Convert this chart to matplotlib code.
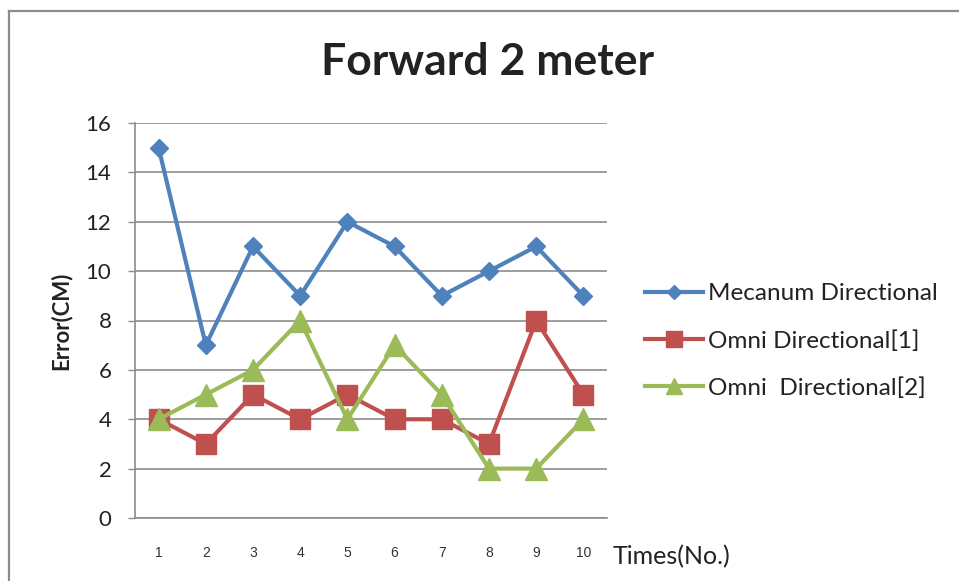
import matplotlib
matplotlib.use("Agg")
import matplotlib.pyplot as plt
from matplotlib.lines import Line2D

# Data
trials = [1, 2, 3, 4, 5, 6, 7, 8, 9, 10]
tick_labels = ["1", "2", "3", "4", "5", "6", "7", "8", "9", "10"]
mecanum = [15, 7, 11, 9, 12, 11, 9, 10, 11, 9]
omni_1 = [4, 3, 5, 4, 5, 4, 4, 3, 8, 5]
omni_2 = [4, 5, 6, 8, 4, 7, 5, 2, 2, 4]
series_names = ["Mecanum Directional", "Omni Directional[1]", "Omni  Directional[2]"]
y_ticks = [0, 2, 4, 6, 8, 10, 12, 14, 16]

BLUE = "#4F81BD"
RED = "#C0504D"
GREEN = "#9BBB59"
GRID = "#8c8c8c"
TEXT = "#222222"

W, H = 959, 581
fig = plt.figure(figsize=(W / 100, H / 100), dpi=100)
fig.patch.set_facecolor("white")

# Chart frame: left and top edges
fx, fy = 9 / W, 1 - 11 / H
fig.add_artist(Line2D([fx, fx], [0, fy], transform=fig.transFigure, color=GRID, lw=1.6))
fig.add_artist(Line2D([fx, 1], [fy, fy], transform=fig.transFigure, color=GRID, lw=1.6))

ax = fig.add_axes([135 / W, 1 - 518 / H, (607 - 135) / W, (518 - 123) / H])
ax.set_facecolor("none")

ax.plot(trials, mecanum, color=BLUE, lw=3.0, marker="D", ms=9, mec=BLUE, mfc=BLUE,
        label=series_names[0], zorder=3)
ax.plot(trials, omni_1, color=RED, lw=3.0, marker="s", ms=15, mec=RED, mfc=RED,
        label=series_names[1], zorder=3)
ax.plot(trials, omni_2, color=GREEN, lw=3.0, marker="^", ms=16, mec=GREEN, mfc=GREEN,
        label=series_names[2], zorder=4)

ax.set_xlim(0.5, 10.5)
ax.set_ylim(0, 16)
ax.set_yticks(y_ticks)
ax.set_yticklabels([str(v) for v in y_ticks], fontsize=16, family="Lato", color=TEXT)
ax.set_xticks(trials)
ax.set_xticklabels(tick_labels, fontsize=10, family="Liberation Sans", color="#333333")
ax.tick_params(axis="x", length=0, pad=20)
ax.tick_params(axis="y", length=5, width=1, color=GRID, pad=12, direction="out")

ax.yaxis.grid(True, color=GRID, lw=1.2)
ax.xaxis.grid(False)
ax.set_axisbelow(True)
for s in ["top", "right"]:
    ax.spines[s].set_visible(False)
for s in ["left", "bottom"]:
    ax.spines[s].set_color(GRID)
    ax.spines[s].set_linewidth(1.2)

ax.set_ylabel("Error(CM)", fontsize=16, fontweight="bold", family="Lato", labelpad=10,
              color=TEXT)

fig.text(488 / W, 1 - 62 / H, "Forward 2 meter", ha="center", va="center",
         fontsize=32, fontweight="bold", family="Lato", color=TEXT)
fig.text(613 / W, 1 - 557 / H, "Times(No.)", ha="left", va="center",
         fontsize=18, family="Lato", color=TEXT)

leg = ax.legend(loc="center left", bbox_to_anchor=(623 / W, 1 - 341 / H),
                bbox_transform=fig.transFigure, frameon=False,
                prop={"family": "Lato", "size": 17.5}, handlelength=2.4,
                handletextpad=0.2, labelspacing=1.05, markerscale=0.75)
for t in leg.get_texts():
    t.set_color(TEXT)

fig.savefig("out.png", dpi=100, facecolor="white")
